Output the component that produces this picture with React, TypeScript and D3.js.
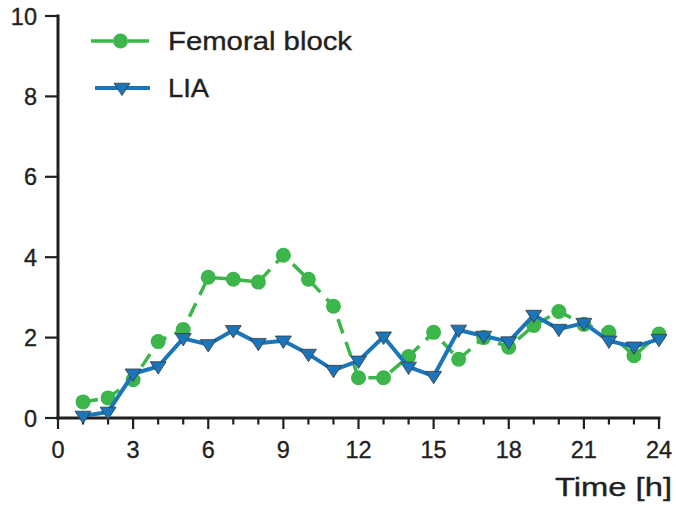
import React from "react";
import * as d3 from "d3";

const hours = d3.range(1, 25);
const femoralBlock = [0.4, 0.5, 0.95, 1.9, 2.2, 3.5, 3.45, 3.38, 4.05, 3.45, 2.78, 1.0, 1.0, 1.53, 2.13, 1.46, 2.0, 1.76, 2.3, 2.65, 2.33, 2.13, 1.55, 2.09];
const lia = [0.05, 0.15, 1.1, 1.28, 1.98, 1.83, 2.18, 1.86, 1.92, 1.59, 1.19, 1.42, 2.02, 1.27, 1.04, 2.19, 2.04, 1.9, 2.56, 2.21, 2.36, 1.92, 1.77, 1.96];
const xTicks = [0, 3, 6, 9, 12, 15, 18, 21, 24];
const yTicks = [0, 2, 4, 6, 8, 10];
const seriesNames = ["Femoral block", "LIA"];
const xTitle = "Time [h]";

const GREEN = "#3cb54a";
const BLUE = "#1b75bb";
const INK = "#231f20";
const FONT = "'Liberation Sans', Arial, Helvetica, sans-serif";

export default function App() {
  const W = 676, H = 512;
  const x = d3.scaleLinear().domain([0, 24]).range([58, 659]);
  const y = d3.scaleLinear().domain([0, 10]).range([418, 16]);
  const lineGen = d3.line<number>().x((_, i) => x(hours[i])).y((d) => y(d));
  const tri = (cx: number, cy: number, s = 8) =>
    `M${cx - s},${cy - s * 0.6}L${cx + s},${cy - s * 0.6}L${cx},${cy + s * 0.95}Z`;
  const txt = { fill: INK, stroke: INK, strokeWidth: 0.35 };

  return (
    <svg width={W} height={H} style={{ position: "absolute", left: 0, top: 0 }} fontFamily={FONT}>
      <rect width={W} height={H} fill="#fff" />
      {/* axes */}
      <line x1={x(0)} x2={x(0)} y1={y(10) - 1.5} y2={y(0) + 1.5} stroke={INK} strokeWidth={3} />
      <line x1={x(0) - 1.5} x2={x(24) + 1.5} y1={y(0)} y2={y(0)} stroke={INK} strokeWidth={3} />
      {yTicks.map((t) => (
        <g key={"y" + t}>
          <line x1={x(0) - 13} x2={x(0)} y1={y(t)} y2={y(t)} stroke={INK} strokeWidth={2.2} />
          <text x={x(0) - 21} y={y(t) + 8.5} textAnchor="end" fontSize={23.5} {...txt}>{t}</text>
        </g>
      ))}
      {d3.range(0, 25).map((t) => (
        <line key={"xt" + t} x1={x(t)} x2={x(t)} y1={y(0)} y2={y(0) + (t % 3 === 0 ? 11 : 6.5)} stroke={INK} strokeWidth={2.2} />
      ))}
      {xTicks.map((t) => (
        <text key={"xl" + t} x={x(t)} y={y(0) + 40} textAnchor="middle" fontSize={23.5} {...txt}>{t}</text>
      ))}
      <text x={555} y={496} textLength={117} lengthAdjust="spacingAndGlyphs" fontSize={25.5} {...txt}>{xTitle}</text>

      {/* Femoral block series */}
      <path d={lineGen(femoralBlock) ?? ""} fill="none" stroke={GREEN} strokeWidth={3.5} strokeDasharray="15 9" />
      {femoralBlock.map((v, i) => (
        <circle key={"f" + i} cx={x(hours[i])} cy={y(v)} r={7.5} fill={GREEN} />
      ))}

      {/* LIA series */}
      <path d={lineGen(lia) ?? ""} fill="none" stroke={BLUE} strokeWidth={4} strokeLinejoin="round" />
      {lia.map((v, i) => (
        <path key={"l" + i} d={tri(x(hours[i]), y(v))} fill={BLUE} stroke="#3a3a3a" strokeWidth={0.8} strokeLinejoin="round" />
      ))}

      {/* legend */}
      <line x1={91} x2={113} y1={41} y2={41} stroke={GREEN} strokeWidth={3.5} />
      <line x1={128} x2={149} y1={41} y2={41} stroke={GREEN} strokeWidth={3.5} />
      <circle cx={120.5} cy={41} r={7.5} fill={GREEN} />
      <text x={168} y={50} textLength={184} lengthAdjust="spacingAndGlyphs" fontSize={25.5} {...txt}>{seriesNames[0]}</text>
      <line x1={95} x2={150} y1={88} y2={88} stroke={BLUE} strokeWidth={4} />
      <path d={tri(122, 88)} fill={BLUE} stroke="#3a3a3a" strokeWidth={0.8} strokeLinejoin="round" />
      <text x={168} y={97} textLength={41} lengthAdjust="spacingAndGlyphs" fontSize={25.5} {...txt}>{seriesNames[1]}</text>
    </svg>
  );
}
